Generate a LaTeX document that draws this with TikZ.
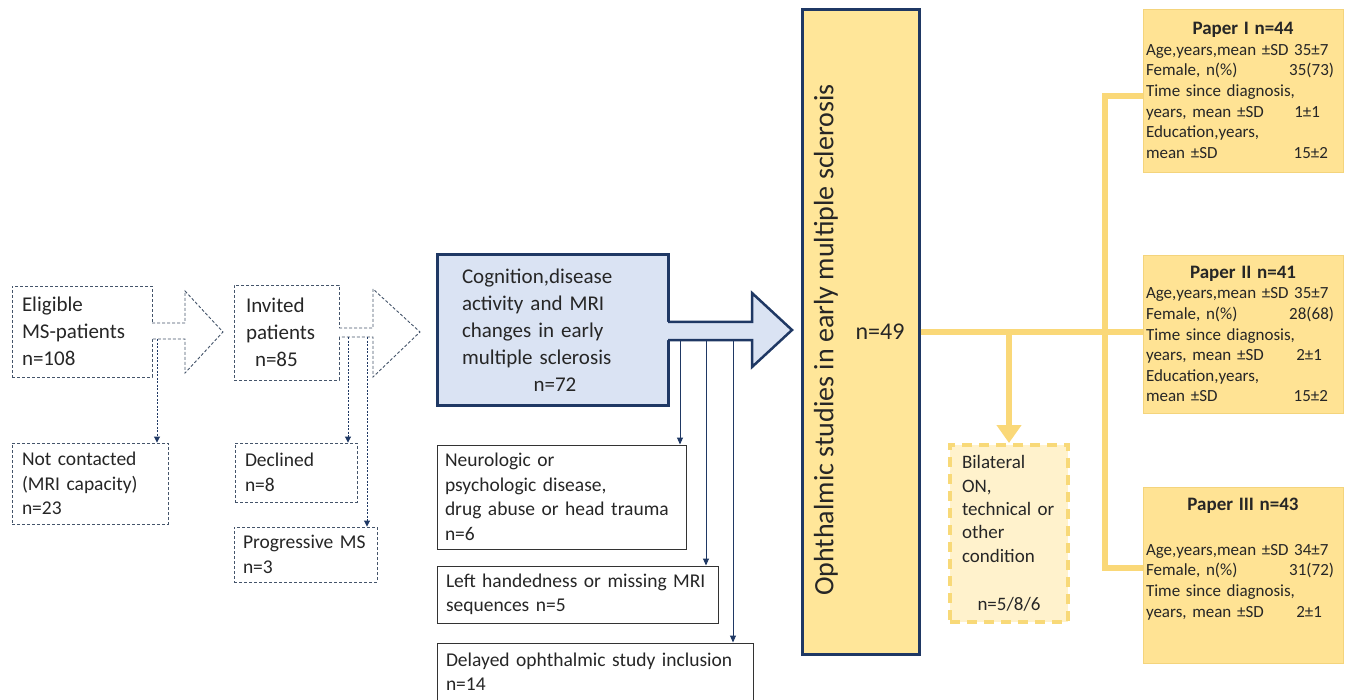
\documentclass[tikz,border=0pt]{standalone}
\usepackage{fontspec}
\setmainfont{Carlito}
\usetikzlibrary{arrows.meta}
\definecolor{navy}{HTML}{1F3864}
\definecolor{dashgray}{HTML}{44546A}
\definecolor{txt}{HTML}{262626}
\definecolor{bluefill}{HTML}{DAE3F3}
\definecolor{tallfill}{HTML}{FFE699}
\definecolor{paperfill}{HTML}{FFE394}
\definecolor{paperedge}{HTML}{F4D47C}
\definecolor{yline}{HTML}{FAD878}
\definecolor{bilatfill}{HTML}{FFF2CC}
\definecolor{bilatedge}{HTML}{F8D978}
\newcommand\fsBig{\fontsize{21}{27}\selectfont}
\newcommand\fsMid{\fontsize{19.5}{24.5}\selectfont}
\newcommand\fsPaper{\fontsize{17}{20.6}\selectfont}
\newcommand\fsHead{\fontsize{19}{20.6}\selectfont\bfseries}
\begin{document}
\begin{tikzpicture}[x=1pt,y=-1pt,
  every node/.style={text=txt},
  dbox/.style={draw=dashgray, line width=0.9pt, dash pattern=on 3pt off 2pt,
    fill=white, align=left, inner ysep=0pt},
  sbox/.style={draw=black!80, line width=1pt, fill=white, align=left,
    inner ysep=0pt, font=\fsMid},
  harrow/.style={draw=dashgray, line width=0.9pt, dash pattern=on 3pt off 2pt},
  dotconn/.style={draw=navy, line width=0.9pt, dash pattern=on 2pt off 1.5pt,
    -{Triangle[length=6pt,width=6pt]}},
  tconn/.style={draw=navy, line width=1pt, -{Triangle[length=7pt,width=6pt]}},
  yconn/.style={draw=yline, line width=6pt},
  pbox/.style={draw=paperedge, line width=0.8pt, fill=paperfill, align=left,
    inner xsep=3pt, inner ysep=0pt, font=\fsPaper, text width=194pt,
    minimum width=200pt}]
\useasboundingbox (0,0) rectangle (1351,700);

% ---- screening stage (dashed boxes) ----
\node[dbox, font=\fsBig, inner xsep=10pt, text width=120pt,
  minimum width=140pt, minimum height=91pt] (eligible) at (82,331.5)
  {Eligible\\MS-patients\\n=108};
\node[dbox, font=\fsMid, inner xsep=10pt, text width=136pt,
  minimum width=156pt, minimum height=81pt] (notcont) at (90,483.5)
  {Not contacted\\(MRI capacity)\\n=23};
\node[dbox, font=\fsBig, inner xsep=12pt, text width=81pt,
  minimum width=105pt, minimum height=95pt] (invited) at (286.5,332.5)
  {Invited\\patients\\\hspace*{9pt}n=85};
\node[dbox, font=\fsMid, inner xsep=10pt, text width=102pt,
  minimum width=122pt, minimum height=59pt] (declined) at (296,472.5)
  {Declined\\n=8};
\node[dbox, font=\fsMid, inner xsep=9pt, text width=125pt,
  minimum width=143pt, minimum height=55pt] (progressive) at (305.5,554.5)
  {Progressive MS\\n=3};

% hollow dashed block arrows
\fill[white] (151,323) -- (185,323) -- (185,291) -- (223,332) -- (185,373)
  -- (185,339) -- (151,339) -- cycle;
\draw[harrow] (152,323) -- (185,323) -- (185,291) -- (223,332) -- (185,373)
  -- (185,339) -- (152,339);
\fill[white] (338,328) -- (373,328) -- (373,289) -- (420,332) -- (373,377)
  -- (373,337) -- (338,337) -- cycle;
\draw[harrow] (339,328) -- (373,328) -- (373,289) -- (420,332) -- (373,377)
  -- (373,337) -- (339,337);

\coordinate (eout) at (157,339);
\coordinate (iout1) at (348,337);
\coordinate (iout2) at (367,337);
\draw[dotconn] (eout) -- (eout |- notcont.north);
\draw[dotconn] (iout1) -- (iout1 |- declined.north);
\draw[dotconn] (iout2) -- (iout2 |- progressive.north);

% ---- cognition study ----
\node[draw=navy, line width=3pt, fill=bluefill, align=left, font=\fsBig,
  inner xsep=25pt, inner ysep=0pt, text width=181pt,
  minimum width=231pt, minimum height=150pt] (cog) at (552.5,330)
  {Cognition,disease\\activity and MRI\\changes in early\\multiple sclerosis\\
   \makebox[181pt][c]{\hspace*{5pt}n=72}};
\fill[bluefill] (666,322) -- (752,322) -- (752,293) -- (792,330) -- (752,367)
  -- (752,340) -- (666,340) -- cycle;
\draw[navy, line width=2.5pt, line join=miter] (668,322) -- (752,322)
  -- (752,293) -- (792,330) -- (752,367) -- (752,340) -- (668,340);

\node[sbox, inner xsep=8pt, text width=233pt, minimum width=249pt,
  minimum height=104pt] (neuro) at (561.5,497)
  {Neurologic or\\psychologic disease,\\drug abuse or head trauma\\n=6};
\node[sbox, inner xsep=9pt, text width=263pt, minimum width=281pt,
  minimum height=57pt] (lefth) at (577.5,594.5)
  {Left handedness or missing MRI\\sequences n=5};
\node[sbox, inner xsep=9pt, text width=298pt, minimum width=316pt,
  minimum height=57pt] (delayed) at (595,671.5)
  {Delayed ophthalmic study inclusion\\n=14};

\coordinate (cout1) at (680,340);
\coordinate (cout2) at (706,340);
\coordinate (cout3) at (733,340);
\draw[tconn] (cout1) -- (cout1 |- neuro.north);
\draw[tconn] (cout2) -- (cout2 |- lefth.north);
\draw[tconn] (cout3) -- (cout3 |- delayed.north);

% ---- ophthalmic studies ----
\node[draw=navy, line width=3pt, fill=tallfill, minimum width=117pt,
  minimum height=644pt, inner sep=0pt] (ophth) at (860.5,332) {};
\node[rotate=90, font=\fontsize{28}{32}\selectfont] (ophtitle) at (826,340)
  {Ophthalmic studies in early multiple sclerosis};
\node[font=\fontsize{24}{28}\selectfont] (n49) at (880,332) {n=49};

\node[draw=bilatedge, line width=4pt, dash pattern=on 10pt off 7pt,
  fill=bilatfill, align=left, font=\fontsize{19}{23.3}\selectfont,
  inner xsep=12pt, inner ysep=0pt, text width=94pt, minimum width=118pt,
  minimum height=177pt] (bilat) at (1009,533.5)
  {Bilateral\\ON,\\technical or\\other\\condition\\[25pt]
   \makebox[94pt][c]{n=5/8/6}};

% ---- papers ----
\node[pbox, minimum height=163pt] (p1) at (1243,90.5)
  {\makebox[194pt][c]{\fsHead Paper I n=44}\\
   Age,years,mean ±SD 35±7\\
   Female, n(\%)\hfill 35(73)\kern6pt\\
   Time since diagnosis,\\
   years, mean ±SD\hfill 1±1\kern20pt\\
   Education,years,\\
   mean ±SD\hfill 15±2\kern12pt};
\node[pbox, minimum height=158pt] (p2) at (1243,334)
  {\makebox[194pt][c]{\fsHead Paper II n=41}\\
   Age,years,mean ±SD 35±7\\
   Female, n(\%)\hfill 28(68)\kern6pt\\
   Time since diagnosis,\\
   years, mean ±SD\hfill 2±1\kern18pt\\
   Education,years,\\
   mean ±SD\hfill 15±2\kern12pt};
\node[pbox, minimum height=176pt] (p3) at (1243,575)
  {\makebox[194pt][c]{\fsHead Paper III n=43}\\[24pt]
   Age,years,mean ±SD 34±7\\
   Female, n(\%)\hfill 31(72)\kern6pt\\
   Time since diagnosis,\\
   years, mean ±SD\hfill 2±1\kern18pt\\[14pt]
   \mbox{}};

% yellow connectors
\coordinate (jt) at (1105,96);
\coordinate (jb) at (1105,568);
\draw[yconn] (ophth.east) -- (p2.west |- ophth.east);
\draw[yconn] (p1.west |- jt) -- (jt) -- (jb) -- (p3.west |- jb);
\draw[yconn, -{Triangle[length=18pt,width=24pt]}]
  (bilat.north |- ophth.east) -- (bilat.north);
\end{tikzpicture}
\end{document}
